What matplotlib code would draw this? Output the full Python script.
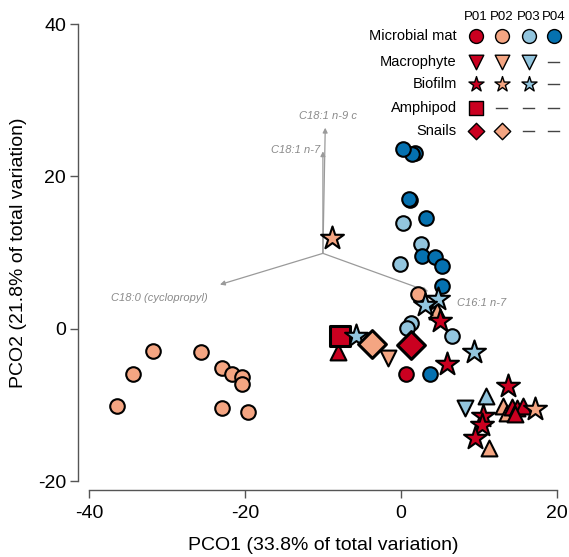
import matplotlib

matplotlib.use("Agg")
import matplotlib.pyplot as plt

plt.rcParams["font.family"] = ["Liberation Sans", "DejaVu Sans"]
plt.rcParams["axes.unicode_minus"] = False

SITES = ["P01", "P02", "P03", "P04"]
SITE_COLORS = ["#CA0020", "#F4A582", "#92C5DE", "#0571B0"]

# microbial mat (circles)
mat_p01_x = [0.6]
mat_p01_y = [-5.9]
mat_p02_x = [-36.4, -34.4, -31.8, -25.6, -22.9, -21.7, -20.4, -20.4, -22.9, -19.6, 2.2]
mat_p02_y = [-10.1, -6.0, -2.9, -3.0, -5.2, -5.9, -6.3, -7.3, -10.4, -10.9, 4.6]
mat_p03_x = [0.3, 2.6, -0.1, 1.3, 0.8, 6.5]
mat_p03_y = [13.9, 11.1, 8.5, 0.8, 0.1, -1.0]
mat_p04_x = [1.8, 1.4, 0.3, 1.2, 1.1, 3.2, 2.7, 4.4, 5.3, 5.3, 3.7]
mat_p04_y = [23.1, 23.0, 23.6, 16.9, 17.1, 14.5, 9.6, 9.4, 8.3, 5.6, -5.9]

# macrophyte (down and up triangles)
mac_dn_p02_x = [-1.7]
mac_dn_p02_y = [-3.8]
mac_dn_p03_x = [8.2]
mac_dn_p03_y = [-10.4]
mac_up_p01_x = [-8.1, 14.2, 14.9, 15.6, 14.6]
mac_up_p01_y = [-3.1, -10.3, -10.4, -10.2, -11.2]
mac_up_p02_x = [4.6, 13.1, 13.6, 11.3]
mac_up_p02_y = [2.3, -10.1, -11.1, -15.6]
mac_up_p03_x = [10.9]
mac_up_p03_y = [-8.8]

# biofilm (stars)
bio_p01_x = [5.0, 5.9, 13.7, 10.5, 10.4, 9.5]
bio_p01_y = [1.0, -4.6, -7.5, -11.4, -12.6, -14.4]
bio_p02_x = [-8.8, 17.2]
bio_p02_y = [11.9, -10.5]
bio_p03_x = [4.7, 3.1, -5.8, 9.4]
bio_p03_y = [3.9, 3.1, -1.0, -3.1]

# amphipod (square) and snails (diamonds)
amp_p01_x = [-7.8]
amp_p01_y = [-0.9]
snl_p01_x = [1.3]
snl_p01_y = [-2.2]
snl_p02_x = [-3.7]
snl_p02_y = [-2.0]

# fatty acid vectors
VEC_ORIGIN = (-10.0, 9.9)
vec_names = ["C18:1 n-9 c", "C18:1 n-7", "C18:0 (cyclopropyl)", "C16:1 n-7"]
vec_tip_x = [-9.7, -10.0, -23.2, 3.5]
vec_tip_y = [26.4, 23.3, 5.8, 4.9]
vec_lab_x = [-9.4, -10.3, -31.0, 7.2]
vec_lab_y = [27.9, 23.5, 4.1, 3.4]
vec_ha = ["center", "right", "center", "left"]

# legend table
leg_labels = ["Microbial mat", "Macrophyte", "Biofilm", "Amphipod", "Snails"]
leg_markers = ["o", "v", "*", "s", "D"]
leg_sizes = [100, 110, 130, 100, 70]
leg_present = [
    [1, 1, 1, 1],
    [1, 1, 1, 0],
    [1, 1, 1, 0],
    [1, 0, 0, 0],
    [1, 1, 0, 0],
]

fig = plt.figure(figsize=(5.69, 5.57), dpi=100)
ax = fig.add_axes([0.137, 0.120, 0.861, 0.853])
ax.set_xlim(-41.4, 21.4)
ax.set_ylim(-21.2, 41.2)

for name, tx, ty, lx, ly, ha in zip(vec_names, vec_tip_x, vec_tip_y, vec_lab_x, vec_lab_y, vec_ha):
    ax.annotate("", xy=(tx, ty), xytext=VEC_ORIGIN,
                arrowprops=dict(arrowstyle="-|>", color="#9a9a9a", lw=0.9,
                                mutation_scale=7, shrinkA=0, shrinkB=0), zorder=1)
    ax.text(lx, ly, name, ha=ha, va="center", fontsize=8, style="italic",
            color="#8a8a8a", zorder=1)

pt = dict(edgecolors="black", linewidths=1.5, zorder=3)
ax.scatter(mat_p01_x, mat_p01_y, s=110, marker="o", c=SITE_COLORS[0], **pt)
ax.scatter(mat_p02_x, mat_p02_y, s=110, marker="o", c=SITE_COLORS[1], **pt)
ax.scatter(mat_p03_x, mat_p03_y, s=110, marker="o", c=SITE_COLORS[2], **pt)
ax.scatter(mat_p04_x, mat_p04_y, s=110, marker="o", c=SITE_COLORS[3], **pt)

ax.scatter(mac_up_p03_x, mac_up_p03_y, s=130, marker="^", c=SITE_COLORS[2], **pt)
ax.scatter(mac_up_p02_x, mac_up_p02_y, s=130, marker="^", c=SITE_COLORS[1], **pt)
ax.scatter(mac_up_p01_x, mac_up_p01_y, s=130, marker="^", c=SITE_COLORS[0], **pt)
ax.scatter(mac_dn_p02_x, mac_dn_p02_y, s=130, marker="v", c=SITE_COLORS[1], **pt)
ax.scatter(mac_dn_p03_x, mac_dn_p03_y, s=130, marker="v", c=SITE_COLORS[2], **pt)

ax.scatter(amp_p01_x, amp_p01_y, s=210, marker="s", c=SITE_COLORS[0],
           edgecolors="black", linewidths=2.2, zorder=3)

ax.scatter(bio_p02_x, bio_p02_y, s=300, marker="*", c=SITE_COLORS[1], **pt)
ax.scatter(bio_p03_x, bio_p03_y, s=300, marker="*", c=SITE_COLORS[2], **pt)
ax.scatter(bio_p01_x, bio_p01_y, s=300, marker="*", c=SITE_COLORS[0], **pt)

ax.scatter(snl_p02_x, snl_p02_y, s=200, marker="D", c=SITE_COLORS[1],
           edgecolors="black", linewidths=2.2, zorder=3)
ax.scatter(snl_p01_x, snl_p01_y, s=200, marker="D", c=SITE_COLORS[0],
           edgecolors="black", linewidths=2.2, zorder=3)

# legend drawn as a small table
leg_cols = [0.812, 0.865, 0.920, 0.971]
leg_rows = [0.956, 0.901, 0.855, 0.804, 0.756]
for cx, site in zip(leg_cols, SITES):
    ax.text(cx, 0.996, site, transform=ax.transAxes, ha="center", va="center", fontsize=9.5)
for ry, label, mk, sz, avail in zip(leg_rows, leg_labels, leg_markers, leg_sizes, leg_present):
    ax.text(0.773, ry, label, transform=ax.transAxes, ha="right", va="center", fontsize=10.5)
    for cx, col, ok in zip(leg_cols, SITE_COLORS, avail):
        if ok:
            ax.scatter([cx], [ry], s=sz, marker=mk, c=col, edgecolors="black",
                       linewidths=1.0, transform=ax.transAxes, clip_on=False, zorder=5)
        else:
            ax.plot([cx - 0.011, cx + 0.011], [ry, ry], color="#444444", lw=1.0,
                    transform=ax.transAxes, clip_on=False)

for side in ["top", "right"]:
    ax.spines[side].set_visible(False)
ax.spines["left"].set_bounds(-20, 40)
ax.spines["bottom"].set_bounds(-40, 20)
for side in ["left", "bottom"]:
    ax.spines[side].set_color("#555555")
    ax.spines[side].set_linewidth(1.0)
ax.set_xticks([-40, -20, 0, 20])
ax.set_yticks([-20, 0, 20, 40])
ax.tick_params(direction="out", length=5.5, width=1.0, color="#555555", labelsize=14)
ax.tick_params(axis="x", pad=5)
ax.tick_params(axis="y", pad=3)
ax.set_xlabel("PCO1 (33.8% of total variation)", fontsize=14)
ax.set_ylabel("PCO2 (21.8% of total variation)", fontsize=14)
ax.xaxis.set_label_coords(0.5, -0.098)
ax.yaxis.set_label_coords(-0.103, 0.5)

fig.savefig("out.png", dpi=100)
